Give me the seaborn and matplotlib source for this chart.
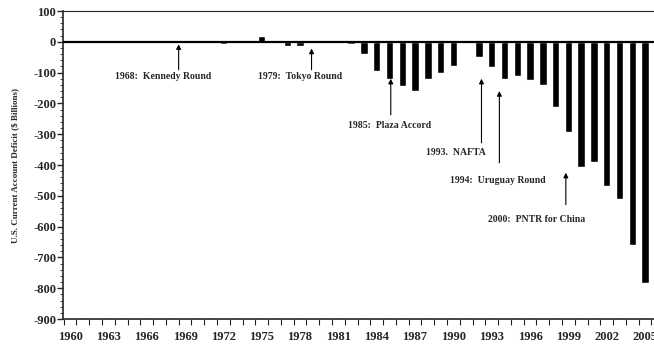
import numpy as np
import pandas as pd
import matplotlib
matplotlib.use("Agg")
import matplotlib.pyplot as plt
import seaborn as sns

# ----------------- Data -----------------
years = list(range(1960, 2006))
balance = [3, 4, 3, 4, 7, 5, 3, 3, 1, 1,
           2, -2, -6, 7, 2, 18, 4, -14, -15, 0,
           2, 5, -6, -40, -96, -120, -145, -160, -122, -100,
           -78, 3, -48, -82, -120, -112, -123, -139, -213, -294,
           -407, -391, -468, -512, -660, -784]

events = ["1968:  Kennedy Round", "1979:  Tokyo Round", "1985:  Plaza Accord",
          "1993.  NAFTA", "1994:  Uruguay Round", "2000:  PNTR for China"]
# (text x, text y, arrow x, arrow tail y, arrow head y) in category/data units
event_pos = [(7.3, -114, 8.5, -91, -8),
             (18.0, -114, 18.9, -91, -22),
             (25.0, -273, 25.1, -237, -120),
             (30.2, -360, 32.2, -328, -120),
             (33.5, -451, 33.6, -393, -160),
             (36.5, -578, 38.8, -529, -425)]

df = pd.DataFrame({"year": years, "balance": balance})

# ----------------- Plot -----------------
sns.set_style("ticks")
plt.rcParams["font.family"] = ["Liberation Serif", "DejaVu Serif"]
plt.rcParams["font.weight"] = "bold"

fig = plt.figure(figsize=(6.54, 3.45), dpi=100)
ax = fig.add_axes([63 / 654, 1 - 319 / 345, 1 - 63 / 654, 308 / 345])

sns.barplot(data=df, x="year", y="balance", color="black", width=0.58,
            saturation=1, ax=ax)
ax.axhline(0, color="black", lw=1.6, zorder=3)

ax.set_xlim(-0.55, 45.7)
ax.set_ylim(-900, 100)

ax.set_xticks(range(0, len(years), 3))
ax.set_xticklabels([str(y) for y in years[::3]], fontsize=9, fontweight="bold")
ax.set_xticks(np.arange(-0.5, len(years), 1), minor=True)
ax.tick_params(axis="x", which="major", length=0, pad=9)
ax.tick_params(axis="x", which="minor", length=4, width=0.8, direction="out")

ax.set_yticks(range(-900, 101, 100))
ax.set_yticklabels([str(v) for v in range(-900, 101, 100)], fontsize=9,
                   fontweight="bold")
ax.set_yticks(range(-900, 101, 20), minor=True)
ax.tick_params(axis="y", which="major", length=4, width=1, pad=1)
ax.tick_params(axis="y", which="minor", length=2, width=0.6)

ax.set_xlabel("")
ax.set_ylabel("")
for side in ["left", "bottom", "top"]:
    ax.spines[side].set_visible(True)
    ax.spines[side].set_linewidth(1.2)
ax.spines["top"].set_linewidth(0.8)
ax.spines["right"].set_visible(False)

fig.text(15 / 654, 0.52, "U.S. Current Account Deficit ($ Billions)",
         rotation=90, ha="center", va="center", fontsize=6.5, fontweight="bold")

for label, (tx, ty, axx, tail, head) in zip(events, event_pos):
    ax.text(tx, ty, label, ha="center", va="center", fontsize=7,
            fontweight="bold")
    ax.annotate("", xy=(axx, head), xytext=(axx, tail),
                arrowprops=dict(arrowstyle="-|>", lw=0.8, color="black",
                                mutation_scale=7, shrinkA=0, shrinkB=0))

fig.savefig("out.png", dpi=100)
